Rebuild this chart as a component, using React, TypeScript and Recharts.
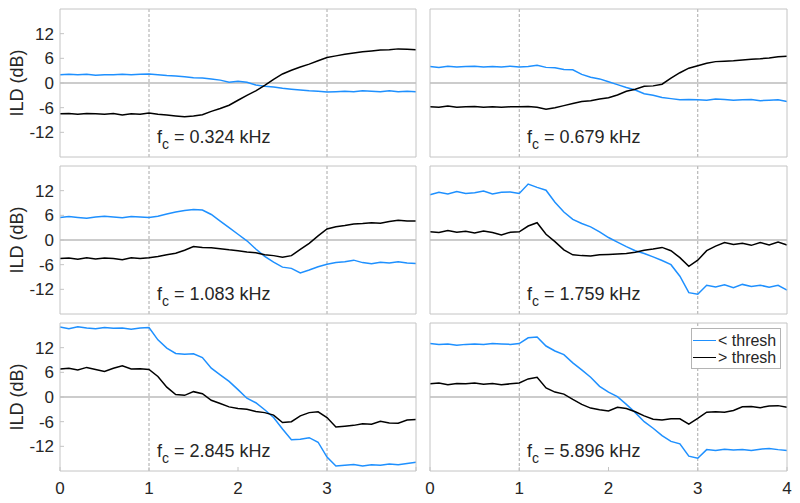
import React from "react";
import { LineChart, Line, XAxis, YAxis, ReferenceLine, Legend } from "recharts";

// time axis (x), shared by all six panels
const times = [
  0, 0.1, 0.2, 0.3, 0.4, 0.5, 0.6, 0.7, 0.8, 0.9, 1, 1.1, 1.2, 1.3, 1.4, 1.5, 1.6, 1.7, 1.8, 1.9, 2,
  2.1, 2.2, 2.3, 2.4, 2.5, 2.6, 2.7, 2.8, 2.9, 3, 3.1, 3.2, 3.3, 3.4, 3.5, 3.6, 3.7, 3.8, 3.9, 4,
];
const xTicks = [0, 1, 2, 3, 4];
const yTicks = [-12, -6, 0, 6, 12];
const centreFreqs = ["0.324", "0.679", "1.083", "1.759", "2.845", "5.896"];

// "< thresh" (blue) and "> thresh" (black) ILD curves, per centre frequency
const below0324 = [
  2.0, 2.1, 2.0, 2.1, 1.9, 2.0, 2.0, 2.1, 2.0, 2.1, 2.2, 2.0, 1.8, 1.7, 1.5, 1.3, 1.2, 1.0, 0.7, 0.2, 0.4,
  0.2, -0.5, -0.8, -1.0, -1.3, -1.5, -1.7, -1.9, -2.0, -2.2, -2.1, -2.0, -2.1, -1.9, -2.0, -2.1, -1.9, -2.1, -2.0, -2.1,
];
const above0324 = [
  -7.5, -7.4, -7.6, -7.4, -7.5, -7.6, -7.4, -7.8, -7.5, -7.6, -7.3, -7.6, -7.8, -8.0, -8.2, -8.0, -7.7, -6.9, -6.2, -5.4, -4.2,
  -3.0, -1.9, -0.6, 0.9, 2.2, 3.1, 3.9, 4.6, 5.4, 6.2, 6.6, 7.0, 7.3, 7.6, 7.8, 8.0, 8.1, 8.3, 8.2, 8.1,
];
const below0679 = [
  4.0, 3.8, 4.1, 3.9, 4.0, 4.1, 3.9, 4.0, 3.9, 4.1, 3.9, 4.0, 4.3, 3.8, 3.7, 3.3, 3.2, 2.1, 1.4, 1.0, 0.3,
  -0.4, -1.1, -1.7, -2.6, -3.0, -3.5, -3.8, -4.1, -4.0, -4.1, -4.2, -3.9, -4.0, -4.2, -4.1, -4.0, -4.3, -4.2, -4.1, -4.5,
];
const above0679 = [
  -5.8, -5.9, -5.6, -5.9, -5.8, -5.7, -5.9, -5.8, -5.9, -5.8, -5.8, -5.7, -5.9, -6.4, -6.0, -5.5, -5.0, -4.5, -4.3, -3.9, -3.6,
  -2.9, -2.0, -1.5, -0.8, -0.7, -0.3, 1.2, 2.5, 3.6, 4.2, 4.8, 5.2, 5.3, 5.4, 5.6, 5.8, 5.9, 6.1, 6.4, 6.5,
];
const below1083 = [
  5.5, 5.7, 5.5, 5.3, 5.6, 5.8, 5.6, 5.4, 5.7, 5.6, 5.5, 5.8, 6.3, 6.8, 7.2, 7.4, 7.3, 6.2, 4.6, 3.0, 1.4,
  -0.2, -2.2, -4.0, -5.4, -6.6, -6.9, -8.0, -7.3, -6.5, -5.9, -5.5, -5.3, -4.9, -5.5, -5.8, -5.4, -5.6, -5.3, -5.6, -5.7,
];
const above1083 = [
  -4.5, -4.4, -4.7, -4.3, -4.6, -4.4, -4.5, -4.8, -4.3, -4.5, -4.3, -4.0, -3.6, -3.2, -2.5, -1.6, -1.8, -1.9, -2.1, -2.4, -2.6,
  -2.9, -3.1, -3.6, -3.8, -4.2, -3.8, -2.3, -0.8, 1.0, 2.7, 3.2, 3.5, 3.9, 4.0, 4.2, 4.1, 4.5, 4.8, 4.6, 4.6,
];
const below1759 = [
  11.0, 11.6, 11.2, 11.8, 11.3, 11.5, 11.9, 11.2, 11.6, 11.7, 11.3, 13.6, 12.8, 12.1, 9.2, 6.8, 5.0, 4.0, 3.2, 2.0, 0.6,
  -0.5, -1.6, -2.6, -3.3, -4.1, -5.0, -6.0, -8.8, -12.8, -13.2, -11.0, -11.4, -10.9, -11.6, -10.8, -11.3, -11.0, -11.5, -11.0, -12.2,
];
const above1759 = [
  2.0, 1.8, 2.3, 1.9, 2.1, 1.7, 2.2, 1.8, 1.2, 1.9, 2.0, 3.4, 4.2, 1.4, -0.4, -2.4, -3.6, -3.8, -3.9, -3.6, -3.5,
  -3.4, -3.3, -3.0, -2.5, -2.2, -1.8, -2.6, -4.3, -6.4, -4.9, -2.6, -1.5, -0.6, -1.1, -0.8, -1.3, -0.6, -1.2, -0.5, -1.2,
];
const below2845 = [
  17.0, 16.6, 17.1, 16.8, 16.6, 16.9, 16.7, 16.8, 16.5, 16.8, 16.9, 13.9, 11.9, 10.6, 10.4, 10.5, 9.6, 7.0, 5.4, 3.8, 1.8,
  -0.3, -1.4, -3.1, -5.0, -7.8, -10.4, -10.3, -9.9, -11.0, -14.6, -16.8, -16.6, -16.4, -16.8, -16.5, -16.6, -16.3, -16.5, -16.2, -15.9,
];
const above2845 = [
  6.8, 7.0, 6.6, 7.2, 6.7, 6.2, 7.0, 7.6, 6.8, 6.9, 6.7, 5.0, 2.4, 0.6, 0.4, 1.3, 0.8, -0.8, -1.6, -2.4, -2.8,
  -3.0, -3.5, -3.8, -4.4, -6.2, -6.0, -4.6, -3.8, -3.6, -5.0, -7.3, -7.1, -6.9, -6.5, -6.6, -5.9, -6.3, -6.4, -5.6, -5.5,
];
const below5896 = [
  13.0, 12.8, 12.9, 12.6, 12.8, 12.9, 12.8, 13.0, 12.9, 12.8, 13.0, 14.4, 14.6, 12.4, 11.2, 10.3, 8.3, 6.6, 4.8, 2.6, 1.2,
  0.1, -1.8, -3.8, -6.0, -7.6, -9.4, -10.8, -11.4, -14.4, -14.9, -12.8, -13.0, -12.7, -12.9, -12.8, -13.0, -12.7, -12.5, -12.8, -13.0,
];
const above5896 = [
  3.2, 3.4, 3.0, 3.3, 3.2, 3.4, 3.1, 3.3, 3.0, 3.2, 3.4, 4.4, 4.8, 2.2, 1.2, 0.7, -0.6, -1.8, -2.7, -3.1, -3.4,
  -2.5, -2.8, -3.6, -4.6, -5.4, -5.6, -5.3, -5.3, -6.6, -5.2, -3.7, -3.6, -3.7, -3.3, -2.4, -2.3, -2.6, -2.2, -2.1, -2.5,
];

const belowSeries = [below0324, below0679, below1083, below1759, below2845, below5896];
const aboveSeries = [above0324, above0679, above1083, above1759, above2845, above5896];

const BLUE = "#1e90ff";
const BOX = "#c4c4c4";
const TEXT = "#262626";
const FONT = "'Liberation Sans', Arial, Helvetica, sans-serif";

const plotTops = [9, 166, 323];
const plotLefts = [60, 430];
const plotWidths = [356, 357];
const PLOT_H = 148;

const renderLegend = (props: any) => (
  <div
    style={{
      border: "1px solid #b4b4b4",
      background: "#fff",
      padding: "3px 4px 2px 1px",
      fontSize: 16,
      lineHeight: "17px",
      color: TEXT,
    }}
  >
    {(props.payload || []).map((p: any) => (
      <div key={p.value} style={{ display: "flex", alignItems: "center", whiteSpace: "nowrap" }}>
        <span
          style={{
            display: "inline-block",
            width: 23,
            height: 0,
            borderTop: `1.5px solid ${p.color}`,
            marginRight: 2,
          }}
        />
        {p.value}
      </div>
    ))}
  </div>
);

const Panel = ({ idx }: { idx: number }) => {
  const row = Math.floor(idx / 2);
  const col = idx % 2;
  const data = times.map((t, i) => ({ t, below: belowSeries[idx][i], above: aboveSeries[idx][i] }));

  const leftW = col === 0 ? 60 : 1;
  const leftM = col === 1 ? 8 : 0;
  const rightM = col === 1 ? 8 : 1;
  const bottomH = row === 2 ? 30 : 1;
  const plotLeft = plotLefts[col];
  const plotTop = plotTops[row];
  const plotW = plotWidths[col];
  const width = leftM + leftW + plotW + 1 + rightM;
  const height = 1 + PLOT_H + bottomH;
  const chartLeft = plotLeft - leftW - leftM;

  const tickStyle = { fontSize: 17, fill: TEXT };

  return (
    <>
      <div style={{ position: "absolute", left: chartLeft, top: plotTop - 1 }}>
        <LineChart
          width={width}
          height={height}
          data={data}
          margin={{ top: 0, right: rightM, bottom: 0, left: leftM }}
        >
          <XAxis
            dataKey="t"
            type="number"
            domain={[0, 4]}
            ticks={xTicks}
            height={bottomH}
            axisLine={{ stroke: BOX }}
            tickLine={{ stroke: BOX }}
            tickSize={-4}
            tickMargin={15}
            tick={row === 2 ? tickStyle : false}
            tickFormatter={(v: number) => (col === 0 && v === 4 ? "" : String(v))}
            interval={0}
          />
          <XAxis
            xAxisId="top"
            orientation="top"
            dataKey="t"
            type="number"
            domain={[0, 4]}
            ticks={xTicks}
            height={1}
            axisLine={{ stroke: BOX }}
            tickLine={{ stroke: BOX }}
            tickSize={-4}
            tick={false}
          />
          <YAxis
            type="number"
            domain={[-18, 18]}
            ticks={yTicks}
            width={leftW}
            axisLine={{ stroke: BOX }}
            tickLine={{ stroke: BOX }}
            tickSize={-4}
            tickMargin={10}
            tick={col === 0 ? tickStyle : false}
            interval={0}
            label={
              col === 0
                ? {
                    value: "ILD (dB)",
                    angle: -90,
                    position: "insideLeft",
                    offset: 17,
                    style: { textAnchor: "middle", fontSize: 18, fill: TEXT },
                  }
                : undefined
            }
          />
          <YAxis
            yAxisId="right"
            orientation="right"
            type="number"
            domain={[-18, 18]}
            ticks={yTicks}
            width={1}
            axisLine={{ stroke: BOX }}
            tickLine={{ stroke: BOX }}
            tickSize={-4}
            tick={false}
          />
          <ReferenceLine y={0} stroke="#9a9a9a" strokeWidth={1.2} />
          <ReferenceLine x={1} stroke="#a8a8a8" strokeDasharray="3 2" />
          <ReferenceLine x={3} stroke="#a8a8a8" strokeDasharray="3 2" />
          <Line
            type="linear"
            dataKey="below"
            name="< thresh"
            stroke={BLUE}
            strokeWidth={1.5}
            dot={false}
            isAnimationActive={false}
          />
          <Line
            type="linear"
            dataKey="above"
            name="> thresh"
            stroke="#000"
            strokeWidth={1.5}
            dot={false}
            isAnimationActive={false}
          />
          {idx === 5 && (
            <Legend
              layout="vertical"
              align="center"
              verticalAlign="middle"
              content={renderLegend}
              wrapperStyle={{ left: 691 - chartLeft, top: 6, width: "auto", height: "auto" }}
            />
          )}
        </LineChart>
      </div>
      <div
        style={{
          position: "absolute",
          left: plotLeft + 97,
          top: plotTop + 119,
          fontSize: 18,
          lineHeight: 1,
          whiteSpace: "nowrap",
          color: TEXT,
        }}
      >
        f<span style={{ fontSize: 14, position: "relative", top: 6 }}>c</span> = {centreFreqs[idx]} kHz
      </div>
    </>
  );
};

const App = () => {
  return (
    <div
      style={{
        position: "absolute",
        left: 0,
        top: 0,
        width: 800,
        height: 503,
        background: "#fff",
        fontFamily: FONT,
        color: TEXT,
      }}
    >
      {[0, 1, 2, 3, 4, 5].map((i) => (
        <Panel key={i} idx={i} />
      ))}
    </div>
  );
};

export default App;
